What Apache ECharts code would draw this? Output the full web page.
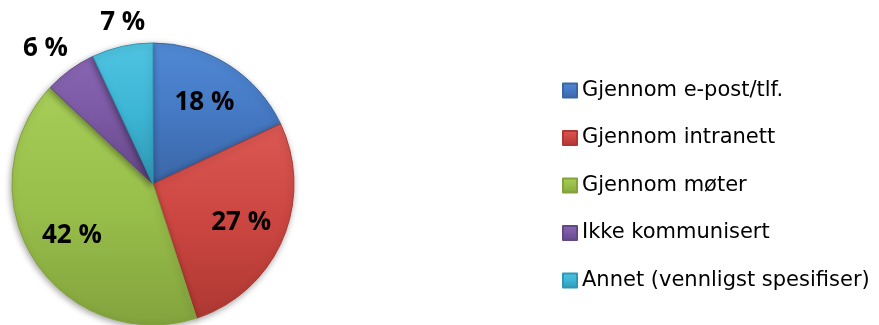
<!DOCTYPE html>
<html>
<head>
<meta charset="utf-8">
<script src="https://cdn.jsdelivr.net/npm/echarts@6/dist/echarts.min.js"></script>
<style>
  html, body { margin: 0; padding: 0; background: #fff; }
  #chart { width: 879px; height: 325px; }
</style>
</head>
<body>
<div id="chart"></div>
<script>
// Kanaler for kommunikasjon (prosent)
const categories = [
  'Gjennom e-post/tlf.',
  'Gjennom intranett',
  'Gjennom møter',
  'Ikke kommunisert',
  'Annet (vennligst spesifiser)'
];
const shares = [18, 27, 42, 6, 7];
// Which slices put their value label near the centre (true) or beyond the rim (false)
const labelInside = [true, true, true, false, false];

// Base / light / dark tones per slice
const tones = [
  ['#4579c3', '#518ad6', '#3a66a6'],
  ['#cc4641', '#da5853', '#ae3833'],
  ['#99bf4b', '#a6cd57', '#83a33d'],
  ['#7a58a2', '#8966b4', '#634787'],
  ['#3db5d4', '#4fc4e2', '#2e98b5']
];
// Small nudges for the labels set beyond the rim
const outerNudge = { 3: [-7, 3], 4: [7, 5] };

function fill(i) {
  const t = tones[i];
  return {
    type: 'linear', x: 0, y: 0, x2: 0, y2: 1,
    colorStops: [
      { offset: 0, color: t[1] },
      { offset: 0.5, color: t[0] },
      { offset: 1, color: t[2] }
    ]
  };
}

const center = [153, 184];
const R = 141;
const fmt = p => p.value + ' %';
const labelFont = {
  fontFamily: 'Open Sans', fontWeight: 'bold', fontSize: 26, color: '#000'
};

const mainData = categories.map((name, i) => ({
  name, value: shares[i],
  itemStyle: { color: fill(i), borderColor: tones[i][2], borderWidth: 1 }
}));

// Invisible label carriers: a pie's inside label sits at half its radius
function labelData(inside) {
  return categories.map((name, i) => ({
    name, value: shares[i],
    label: {
      show: labelInside[i] === inside,
      offset: (!inside && outerNudge[i]) ? outerNudge[i] : [0, 0]
    }
  }));
}

const labelSeriesBase = {
  type: 'pie',
  center: center,
  startAngle: 90,
  clockwise: true,
  silent: true,
  animation: false,
  itemStyle: { color: 'transparent', borderWidth: 0 },
  emphasis: { disabled: true },
  labelLine: { show: false },
  label: Object.assign({ position: 'inside', formatter: fmt }, labelFont)
};

const option = {
  backgroundColor: '#fff',
  animation: false,
  legend: {
    orient: 'vertical',
    left: 562,
    top: 80,
    padding: 0,
    icon: 'rect',
    itemWidth: 14,
    itemHeight: 14,
    itemGap: 26.5,
    selectedMode: false,
    textStyle: {
      fontFamily: 'DejaVu Sans', fontSize: 21, color: '#000', lineHeight: 21
    },
    data: categories
  },
  series: [
    {
      type: 'pie',
      center: center,
      radius: [0, R],
      startAngle: 90,
      clockwise: true,
      animation: false,
      label: { show: false },
      labelLine: { show: false },
      itemStyle: {
        shadowBlur: 6,
        shadowColor: 'rgba(0,0,0,0.35)',
        shadowOffsetX: -1,
        shadowOffsetY: 2
      },
      emphasis: { disabled: true },
      data: mainData
    },
    Object.assign({}, labelSeriesBase, { radius: [0, 186], data: labelData(true) }),
    Object.assign({}, labelSeriesBase, { radius: [0, 336], data: labelData(false) })
  ]
};

const chart = echarts.init(document.getElementById('chart'), null, { renderer: 'canvas' });
chart.setOption(option);
</script>
</body>
</html>
